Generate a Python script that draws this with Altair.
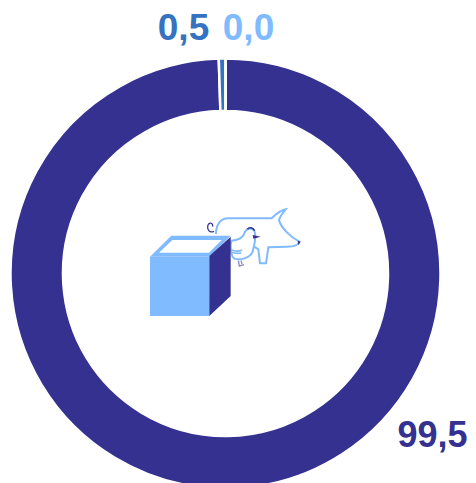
import re
import altair as alt
import pandas as pd

categories = ["dark", "mid", "light"]
values = [99.5, 0.5, 0.0]
labels = ["99,5", "0,5", "0,0"]
colors = ["#353191", "#3572c0", "#80bbff"]
order = [1, 2, 3]

DARK, MID, LIGHT = colors


def zoomed(path):
    """Convert an outline sketched on the 3x crop to chart pixels."""
    out, is_x = [], True
    for tok in re.findall(r"[A-Za-z]|-?\d+\.?\d*", path):
        if tok.isalpha():
            out.append(tok)
            is_x = True
        else:
            v = float(tok) / 3 + (130 - 8 if is_x else 190 - 8)
            out.append(f"{v:.2f}")
            is_x = not is_x
    return " ".join(out)


df = pd.DataFrame({"cat": categories, "val": values, "ord": order})
ring = (
    alt.Chart(df)
    .mark_arc(outerRadius=215, innerRadius=162.5, stroke="white", strokeWidth=2.5)
    .encode(
        theta=alt.Theta("val:Q", stack=True, scale=alt.Scale(domain=[0, 100], range=[0, 6.28318530718])),
        order=alt.Order("ord:Q"),
        color=alt.Color("cat:N", scale=alt.Scale(domain=categories, range=colors), legend=None),
        x=alt.value(217.5),
        y=alt.value(265.5),
    )
)


def txt(s, col, x, y, size=37):
    return (
        alt.Chart(pd.DataFrame({"t": [s]}))
        .mark_text(font="Liberation Sans", fontWeight="bold", fontSize=size, color=col, align="center", baseline="middle")
        .encode(text="t:N", x=alt.value(x), y=alt.value(y))
    )


def shape(path, fill=None, stroke=None, width=0):
    kw = dict(shape=path, size=4, opacity=1, filled=fill is not None)
    if fill is not None:
        kw["fill"] = fill
        kw["fillOpacity"] = 1
    if stroke is not None:
        kw["stroke"] = stroke
        kw["strokeWidth"] = width
    else:
        kw["strokeWidth"] = 0
    return alt.Chart(pd.DataFrame({"a": [0]})).mark_point(**kw).encode(x=alt.value(0), y=alt.value(0))


pig = "M 258 132 C 258 105 270 85 295 85 L 425 85 C 435 75 450 62 467 58 C 458 70 448 80 447 92 C 455 115 480 140 508 155 C 505 165 490 170 470 170 L 415 172 L 408 220 L 390 220 L 385 178 L 365 165 L 300 155"
tail = "M 252 124 C 238 130 230 118 234 105 C 238 96 250 98 248 110"
chicken = "M 305 152 C 325 150 340 145 345 125 C 352 112 368 112 374 125 C 380 145 372 165 368 185 C 360 205 330 212 312 205 C 302 198 302 180 302 165 Z"
wing = "M 302 178 C 315 185 325 185 336 180 M 305 187 C 315 190 325 192 334 188"
comb = "M 352 118 C 358 110 368 112 374 122"
beak = "M 368 135 L 392 140 L 370 146 Z"
legs = "M 325 212 L 328 228 L 342 224 M 333 212 L 336 222"
nose = "M 503 152 L 512 155 L 505 166 Z"

cube_side = "M 238 198 L 302 140 L 302 318 L 238 378 Z"
cube_front = "M 60 200 L 238 200 L 238 378 L 60 378 Z"
cube_top = "M 60 200 L 124 137 L 302 137 L 238 200 Z"
cube_hole = "M 87 188 L 127 150 L 275 150 L 237 188 Z"

chart = (
    alt.layer(
        ring,
        txt(labels[0], DARK, 424.5, 428, size=36),
        txt(labels[1], MID, 175.5, 21),
        txt(labels[2], LIGHT, 240.5, 21),
        shape(zoomed(pig), stroke=LIGHT, width=2),
        shape(zoomed(tail), stroke=DARK, width=1.2),
        shape(zoomed(chicken), fill="white", stroke=LIGHT, width=2),
        shape(zoomed(wing), stroke=LIGHT, width=1.6),
        shape(zoomed(comb), stroke=DARK, width=1.6),
        shape(zoomed(beak), fill=DARK),
        shape(zoomed(legs), stroke="#8f8fc0", width=1.4),
        shape(zoomed(nose), fill=DARK),
        shape(zoomed(cube_top), fill=LIGHT),
        shape(zoomed(cube_hole), fill="white"),
        shape(zoomed(cube_front), fill=LIGHT),
        shape(zoomed(cube_side), fill=DARK),
    )
    .properties(width=460, height=475, padding=0, background="white", autosize=alt.AutoSizeParams(type="none"))
    .configure_view(stroke=None, clip=False)
)
chart.save("out.html", embed_options={"renderer": "svg", "actions": False})
